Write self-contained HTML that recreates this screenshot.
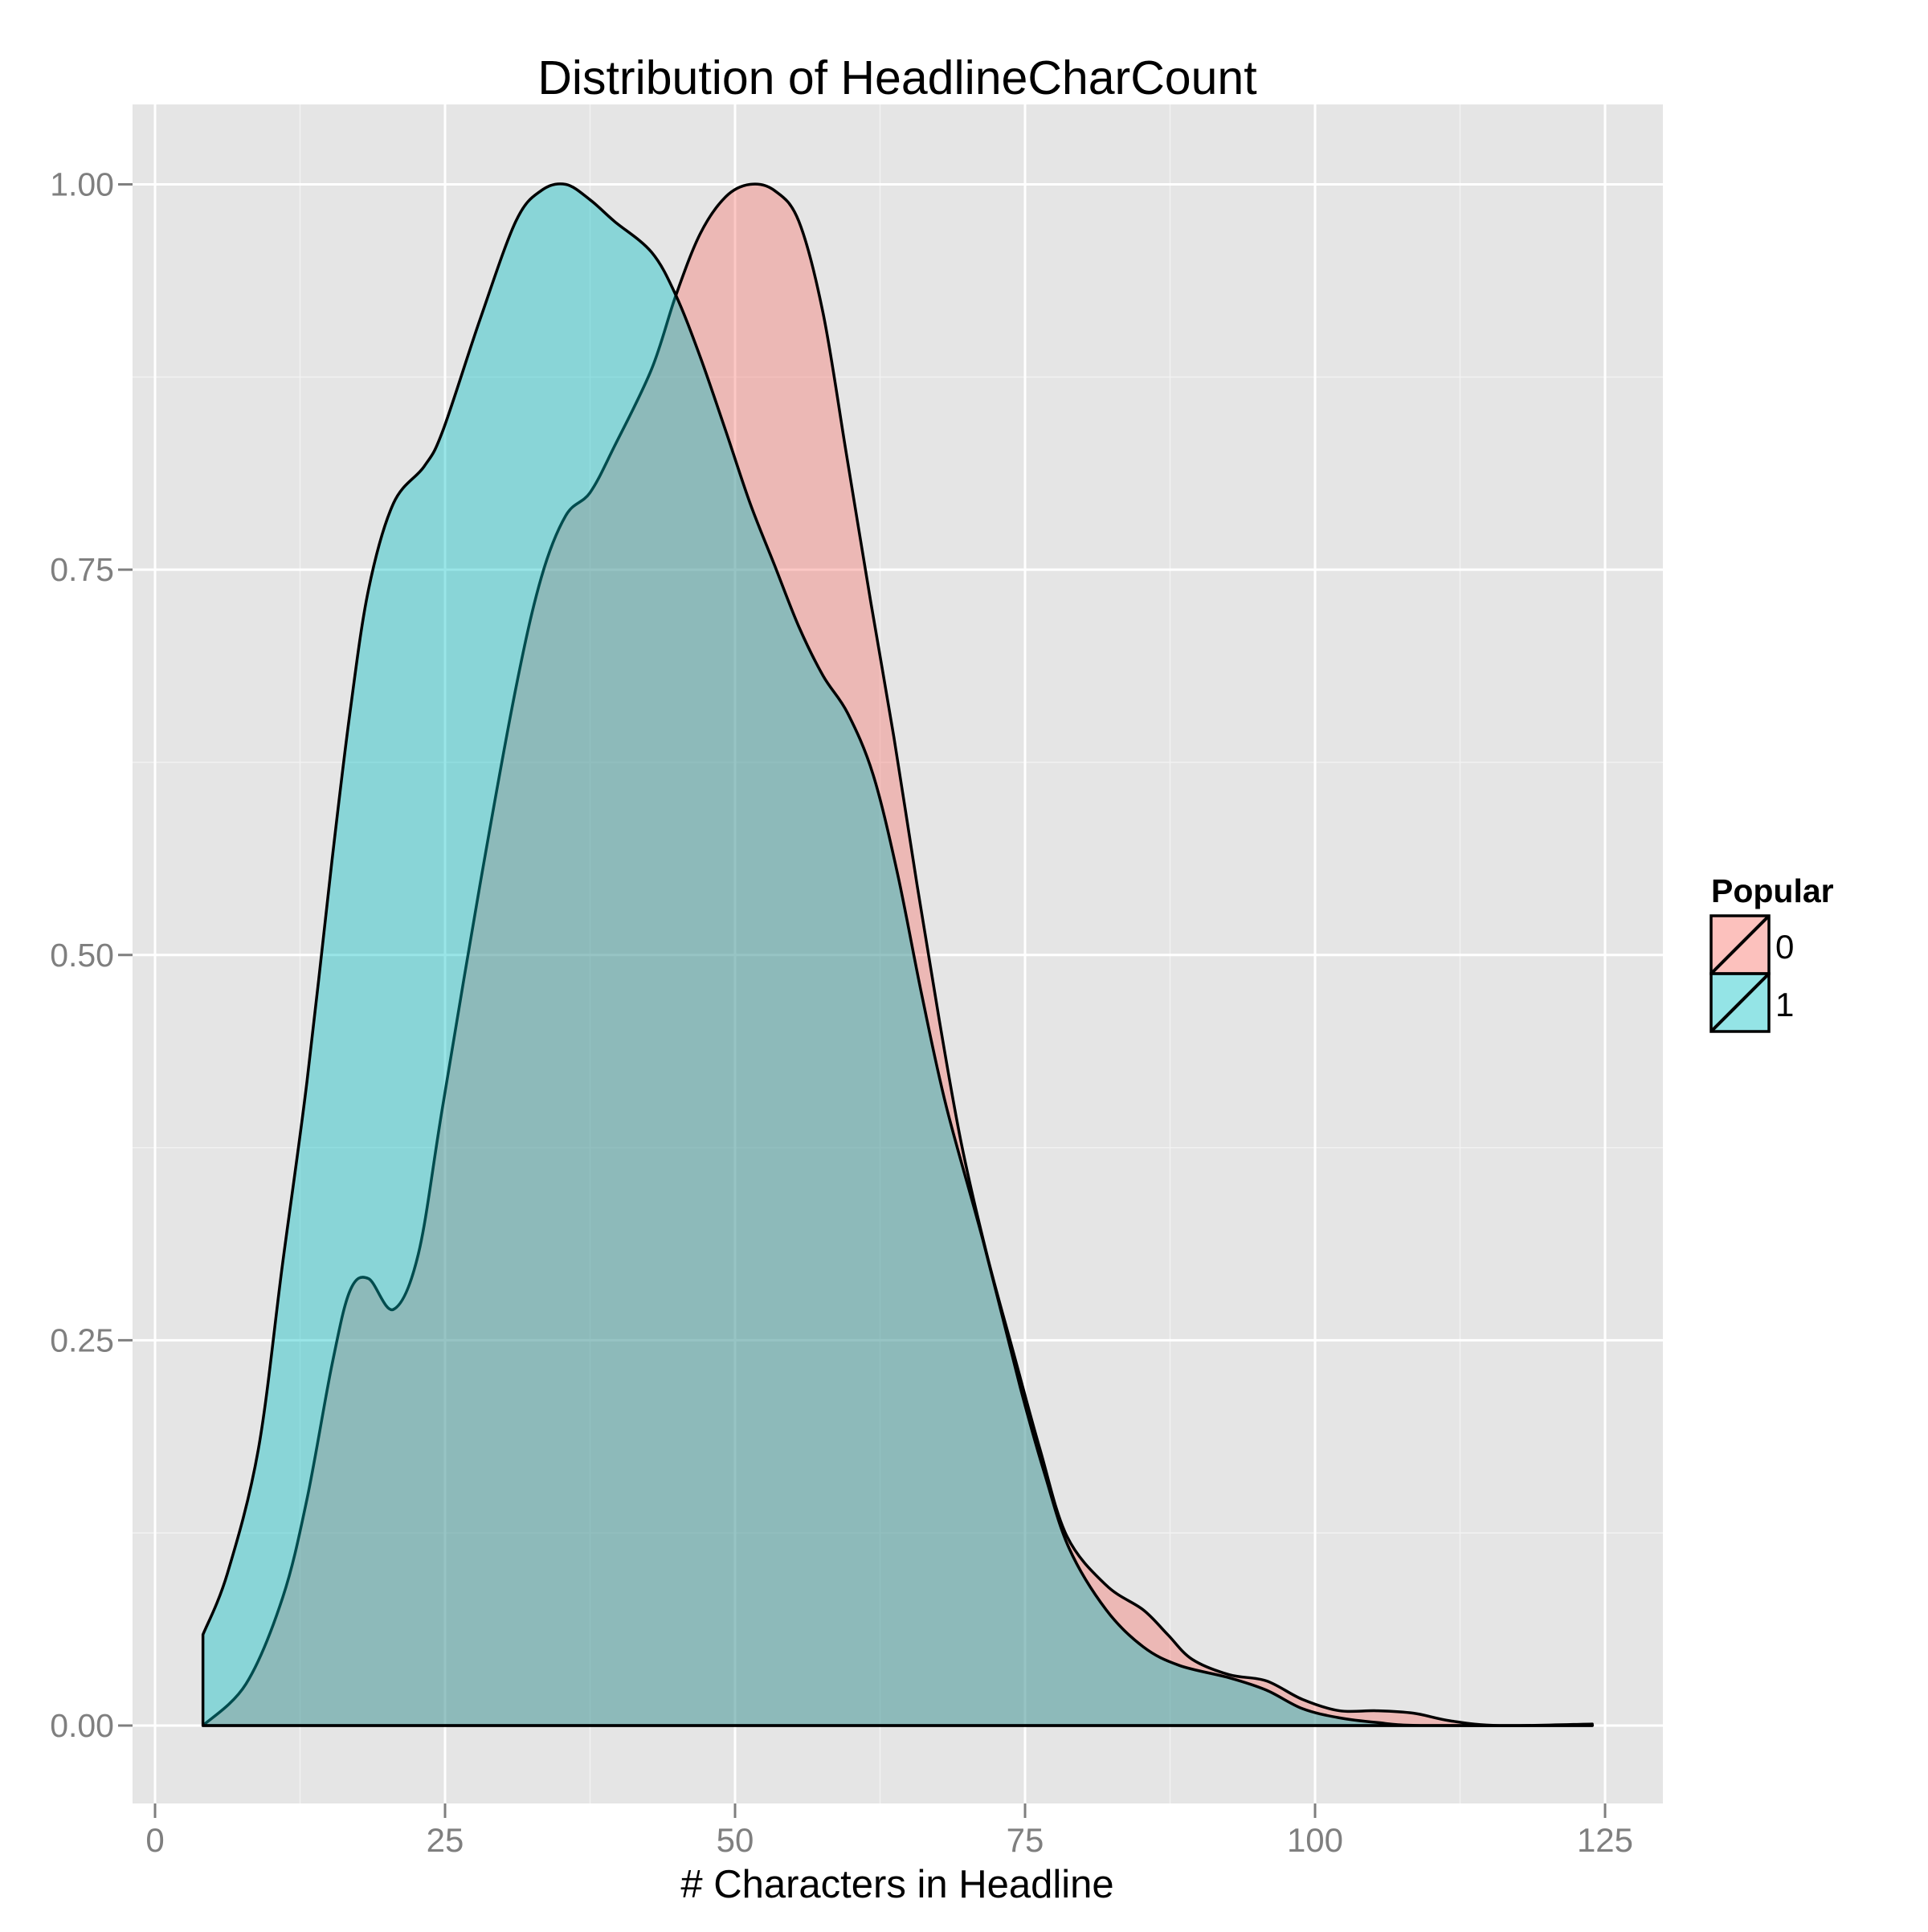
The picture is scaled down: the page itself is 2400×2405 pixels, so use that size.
<!DOCTYPE html>
<html><head><meta charset="utf-8"><style>
html,body{margin:0;padding:0;background:#fff;}
svg text{font-family:"Liberation Sans",sans-serif;}
</style></head><body>
<svg id="chart" width="2400" height="2400" viewBox="0 0 2400 2400" xmlns="http://www.w3.org/2000/svg">
<rect x="0" y="0" width="2400" height="2400" fill="#fff"/>
<rect x="165" y="130" width="1905" height="2115" fill="#e5e5e5"/>
<g id="grid"></g>
<g id="series"></g>
<g id="axes"></g>
<text x="1117" y="117" font-size="59" text-anchor="middle" fill="#000">Distribution of HeadlineCharCount</text>
<text x="1117" y="2362" font-size="49" text-anchor="middle" fill="#000"># Characters in Headline</text>
<g>
<text x="2130" y="1123" font-size="41" font-weight="bold" fill="#000">Popular</text>
<g>
<rect x="2130" y="1140" width="72" height="72" fill="#F8766D" fill-opacity="0.45" stroke="#000" stroke-width="3.5"/>
<line x1="2130" y1="1212" x2="2202" y2="1140" stroke="#000" stroke-width="4"/>
<text x="2210" y="1193" font-size="42" fill="#000">0</text>
</g>
<g>
<rect x="2130" y="1212" width="72" height="72" fill="#00BFC4" fill-opacity="0.42" stroke="#000" stroke-width="3.5"/>
<line x1="2130" y1="1284" x2="2202" y2="1212" stroke="#000" stroke-width="4"/>
<text x="2210" y="1265" font-size="42" fill="#000">1</text>
</g>
</g>
</svg>
<script>
const xTicks=[0,25,50,75,100,125];
const yTicks=[0,0.25,0.5,0.75,1.0];
const yTickLabels=["0.00","0.25","0.50","0.75","1.00"];
const x0=[4.13,7.84,11.0,13.1,15.25,16.8,18.4,20.55,22.7,24.8,28.0,31.1,33.3,35.4,37.5,39.6,42.8,44.9,47.0,49.2,51.3,53.4,55.5,57.6,59.6,61.7,63.7,65.7,67.6,69.5,71.7,74.0,76.3,78.6,82.0,85.2,87.3,89.4,92.6,95.8,98.9,102.1,105.3,108.5,111.7,115.9,123.9];
const y0=[0,0.027,0.083,0.147,0.234,0.282,0.29,0.27,0.306,0.402,0.545,0.673,0.745,0.785,0.80,0.83,0.88,0.928,0.968,0.992,1.0,0.996,0.976,0.916,0.825,0.729,0.641,0.545,0.458,0.378,0.306,0.242,0.179,0.123,0.091,0.075,0.059,0.043,0.033,0.029,0.017,0.0096,0.0096,0.008,0.003,0,0.001];
const x1=[4.13,6.25,8.9,11.0,13.1,15.25,16.8,18.4,20.55,23.2,24.8,28.0,31.1,33.3,35.4,37.5,39.6,42.8,44.9,47.0,49.2,51.3,53.4,55.5,57.6,59.7,61.9,64.0,66.1,68.2,71.4,74.6,76.7,78.8,82.0,85.2,88.3,92.6,95.8,98.9,102.1,105.3,109.5,123.9];
const y1=[0.059,0.099,0.179,0.3,0.418,0.561,0.657,0.737,0.793,0.817,0.84,0.912,0.976,0.996,1.0,0.99,0.976,0.956,0.928,0.888,0.84,0.793,0.753,0.713,0.681,0.657,0.617,0.553,0.474,0.402,0.314,0.219,0.163,0.115,0.075,0.051,0.039,0.031,0.023,0.011,0.005,0.002,0,0];
const NS="http://www.w3.org/2000/svg";
const X=v=>193+v*14.44;
const Y=v=>2148-v*1918.5;
function mk(tag,attrs,parent){const e=document.createElementNS(NS,tag);for(const k in attrs)e.setAttribute(k,attrs[k]);parent.appendChild(e);return e;}
const grid=document.getElementById('grid');
for(let i=0;i<xTicks.length-1;i++){const m=(xTicks[i]+xTicks[i+1])/2;const l=mk('line',{x1:X(m),x2:X(m),y1:130,y2:2245,stroke:'#f2f2f2','stroke-width':1.5},grid);

}
for(let i=0;i<yTicks.length-1;i++){const m=(yTicks[i]+yTicks[i+1])/2;const l=mk('line',{x1:165,x2:2070,y1:Y(m),y2:Y(m),stroke:'#f2f2f2','stroke-width':1.5},grid);

}
const axes=document.getElementById('axes');
xTicks.forEach(t=>{const l=mk('line',{x1:X(t),x2:X(t),y1:130,y2:2245,stroke:'#fff','stroke-width':3},grid);


const tk=mk('line',{x1:X(t),x2:X(t),y1:2245,y2:2263,stroke:'#7f7f7f','stroke-width':3},axes);


const tx=mk('text',{x:X(t),y:2305,'font-size':42,'text-anchor':'middle',fill:'#7f7f7f'},axes);tx.textContent=t;

});
yTicks.forEach((t,i)=>{const l=mk('line',{x1:165,x2:2070,y1:Y(t),y2:Y(t),stroke:'#fff','stroke-width':3},grid);


const tk=mk('line',{x1:147,x2:165,y1:Y(t),y2:Y(t),stroke:'#7f7f7f','stroke-width':3},axes);


const tx=mk('text',{x:142,y:Y(t)+14,'font-size':41,'text-anchor':'end',fill:'#7f7f7f'},axes);tx.textContent=yTickLabels[i];

});
function smooth(pts){let d=`M${pts[0][0]},${pts[0][1]}`;for(let i=0;i<pts.length-1;i++){const p0=pts[i-1]||pts[i],p1=pts[i],p2=pts[i+1],p3=pts[i+2]||p2;
const c1=[p1[0]+(p2[0]-p0[0])/6,p1[1]+(p2[1]-p0[1])/6],c2=[p2[0]-(p3[0]-p1[0])/6,p2[1]-(p3[1]-p1[1])/6];
d+=` C${c1[0]},${c1[1]} ${c2[0]},${c2[1]} ${p2[0]},${p2[1]}`;}return d;}
const series=document.getElementById('series');
function draw(xs,ys,col,op,name){const pts=xs.map((x,i)=>[X(x),Y(ys[i])]);
const d=`M${X(xs[0])},${Y(0)} L`+smooth(pts).slice(1)+` L${X(xs[xs.length-1])},${Y(0)} Z`;
const p=mk('path',{d:d,fill:col,'fill-opacity':op,stroke:'#000','stroke-width':3.5,'stroke-linejoin':'round'},series);

}
draw(x0,y0,'#F8766D',0.4,'density-popular-0');
draw(x1,y1,'#00BFC4',0.4,'density-popular-1');
</script>
</body></html>
